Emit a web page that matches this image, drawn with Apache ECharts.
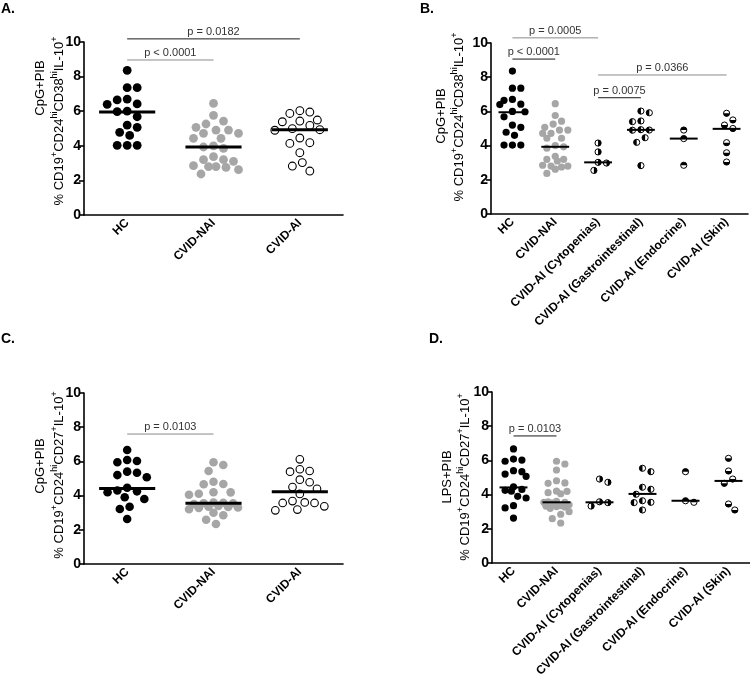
<!DOCTYPE html>
<html><head><meta charset="utf-8">
<script src="https://cdn.jsdelivr.net/npm/echarts@6/dist/echarts.min.js"></script>
<style>html,body{margin:0;padding:0;background:#fff}#c{width:750px;height:689px}</style>
</head><body><div id="c"></div>
<script>
const FONT = "'Liberation Sans', Arial, Helvetica, sans-serif";

// ---------- categories & ticks ----------
const catsShort = ['HC', 'CVID-NAI', 'CVID-AI'];
const catsLong = ['HC', 'CVID-NAI', 'CVID-AI (Cytopenias)', 'CVID-AI (Gastrointestinal)', 'CVID-AI (Endocrine)', 'CVID-AI (Skin)'];
const yTickValues = [0, 2, 4, 6, 8, 10];

// ---------- CpG+PIB, CD24hi CD38hi IL-10+ (panels A, B) ----------
const hcCD38 = [8.36, 7.36, 7.36, 6.7, 6.65, 6.42, 6.4, 6.0, 5.98, 5.68, 5.2, 5.07, 4.78, 4.6, 4.03, 4.03, 4.03];
const naiCD38 = [6.45, 5.76, 5.43, 5.26, 5.07, 4.91, 4.91, 4.72, 4.72, 4.43, 4.43, 4.0, 3.93, 3.85, 3.37, 3.2, 3.2, 3.1, 2.85, 2.8, 2.8, 2.75, 2.62, 2.37];
const aiCD38 = [6.03, 5.95, 5.87, 5.49, 5.43, 5.39, 5.18, 4.99, 4.93, 4.9, 4.45, 4.18, 4.14, 3.6, 3.03, 2.83, 2.54];
const cytoCD38 = [4.15, 3.63, 3.02, 2.98, 2.55];
const giCD38 = [6.02, 5.92, 5.44, 5.4, 4.93, 4.91, 4.9, 4.46, 4.19, 2.83];
const endoCD38 = [4.91, 4.41, 2.85];
const skinCD38 = [5.89, 5.5, 5.2, 5.0, 4.17, 3.58, 3.04];

// ---------- CD24hi CD27+ IL-10+ (panels C, D) ----------
const hcCD27 = [6.67, 6.08, 6.02, 5.95, 5.4, 5.34, 5.2, 5.07, 4.46, 4.3, 4.25, 4.2, 3.9, 3.8, 3.35, 3.22, 2.63];
const naiCD27 = [5.95, 5.79, 5.44, 4.81, 4.68, 4.66, 4.2, 4.19, 4.11, 4.05, 3.6, 3.58, 3.55, 3.55, 3.5, 3.4, 3.35, 3.33, 3.3, 3.28, 3.2, 3.0, 2.85, 2.59, 2.34];
const aiCD27 = [6.12, 5.54, 5.44, 5.4, 4.93, 4.78, 4.5, 4.4, 4.1, 3.68, 3.6, 3.57, 3.57, 3.37, 3.18, 3.14];
const cytoLPS = [4.91, 4.72, 3.58, 3.53, 3.33];
const giLPS = [5.54, 5.34, 4.43, 4.31, 4.02, 3.64, 3.55, 3.53, 3.1];
const endoLPS = [5.34, 3.64, 3.55];
const skinLPS = [6.12, 5.38, 4.91, 4.66, 3.45, 3.1];

// ---------- medians (horizontal bars) ----------
const medA = [5.95, 3.93, 4.93];
const medB = [5.95, 3.93, 3.02, 4.92, 4.41, 4.98];
const medC = [4.42, 3.55, 4.22];
const medD = [4.42, 3.55, 3.55, 4.04, 3.64, 4.8];

// ---------- significance brackets: [fromCategory, toCategory, height] ----------
const sigA = [[0, 2, 10.18], [0, 1, 8.96]];
const sigALabels = ['p = 0.0182', 'p < 0.0001'];
const sigB = [[0, 2, 10.3], [0, 1, 9.06], [2, 5, 8.13], [2, 3, 6.8]];
const sigBLabels = ['p = 0.0005', 'p < 0.0001', 'p = 0.0366', 'p = 0.0075'];
const sigC = [[0, 1, 7.6]];
const sigCLabels = ['p = 0.0103'];
const sigD = [[0, 1, 7.43]];
const sigDLabels = ['p = 0.0103'];

// ---------- layout / style ----------
const panels = [
  { grid: { left: 84, top: 42, width: 259, height: 173 }, cats: catsShort,
    groups: [hcCD38, naiCD38, aiCD38], kinds: ['black', 'gray', 'open'],
    med: medA, sig: sigA, sigLabels: sigALabels, sigColors: ['#1a1a1a', '#8a8a8a'], r: 4.4, medW: 3 },
  { grid: { left: 491, top: 43, width: 257, height: 171 }, cats: catsLong,
    groups: [hcCD38, naiCD38, cytoCD38, giCD38, endoCD38, skinCD38], kinds: ['black', 'gray', 'R', 'L', 'T', 'B'],
    med: medB, sig: sigB, sigLabels: sigBLabels, sigColors: ['#8a8a8a', '#1a1a1a', '#8a8a8a', '#1a1a1a'], r: 3.6, medW: 2 },
  { grid: { left: 84, top: 393, width: 259, height: 171 }, cats: catsShort,
    groups: [hcCD27, naiCD27, aiCD27], kinds: ['black', 'gray', 'open'],
    med: medC, sig: sigC, sigLabels: sigCLabels, sigColors: ['#8a8a8a'], r: 4.3, medW: 3 },
  { grid: { left: 492, top: 392, width: 258, height: 171 }, cats: catsLong,
    groups: [hcCD27, naiCD27, cytoLPS, giLPS, endoLPS, skinLPS], kinds: ['black', 'gray', 'R', 'L', 'T', 'B'],
    med: medD, sig: sigD, sigLabels: sigDLabels, sigColors: ['#1a1a1a'], r: 3.6, medW: 2 }
];

// beeswarm: horizontal pixel offsets derived from the values
function swarm(values, ppu, r, maxHalf) {
  const minD = 2 * r + 1.2;
  const step = minD / 4;
  const order = values.map((v, i) => i).sort((a, b) => values[b] - values[a] || a - b);
  const placed = [];
  const off = new Array(values.length).fill(0);
  for (const i of order) {
    const y = values[i] * ppu;
    let chosen = null, fallback = 0, fb = -1;
    let bal = 0;
    placed.forEach(p => { if (Math.abs(p.y - y) < 2 * minD) bal += Math.sign(p.x); });
    for (let k = 0; k * step <= maxHalf + 1e-6; k++) {
      const cands = k === 0 ? [0] : (bal > 0 ? [-k * step, k * step] : [k * step, -k * step]);
      for (const x of cands) {
        let md = Infinity;
        for (const p of placed) md = Math.min(md, Math.hypot(p.x - x, p.y - y));
        if (md >= minD) { chosen = x; break; }
        if (md > fb) { fb = md; fallback = x; }
      }
      if (chosen !== null) break;
    }
    off[i] = chosen !== null ? chosen : fallback;
    placed.push({ x: off[i], y });
  }
  return off;
}

function dotRender(kind, r) {
  const ang = { L: [Math.PI / 2, Math.PI * 1.5], R: [-Math.PI / 2, Math.PI / 2], T: [Math.PI, Math.PI * 2], B: [0, Math.PI] };
  return function (params, api) {
    const p = api.coord([api.value(0), api.value(1)]);
    const cx = p[0] + api.value(2), cy = p[1];
    if (kind === 'black') return { type: 'circle', shape: { cx, cy, r }, style: { fill: '#000' } };
    if (kind === 'gray') return { type: 'circle', shape: { cx, cy, r }, style: { fill: '#a6a6a6' } };
    if (kind === 'open') return { type: 'circle', shape: { cx, cy, r: r - 0.5 }, style: { fill: '#fff', stroke: '#000', lineWidth: 1.1 } };
    const a = ang[kind];
    return { type: 'group', children: [
      { type: 'circle', shape: { cx, cy, r: r - 0.5 }, style: { fill: '#fff', stroke: '#000', lineWidth: 1 } },
      { type: 'sector', shape: { cx, cy, r0: 0, r: r - 0.5, startAngle: a[0], endAngle: a[1], clockwise: true }, style: { fill: '#000' } }
    ] };
  };
}

function medianRender(lw) {
  return function (params, api) {
    const p = api.coord([api.value(0), api.value(1)]);
    const w = api.size([1, 0])[0] * 0.65;
    return { type: 'line', shape: { x1: p[0] - w / 2, y1: p[1], x2: p[0] + w / 2, y2: p[1] }, style: { stroke: '#000', lineWidth: lw } };
  };
}

function sigRender(labels, colors) {
  return function (params, api) {
    const a = api.coord([api.value(0), api.value(2)]);
    const b = api.coord([api.value(1), api.value(2)]);
    const i = params.dataIndex;
    return { type: 'group', children: [
      { type: 'line', shape: { x1: a[0], y1: a[1], x2: b[0], y2: b[1] }, style: { stroke: colors[i], lineWidth: 1 } },
      { type: 'text', x: (a[0] + b[0]) / 2, y: a[1] - 1.5,
        style: { text: labels[i], fill: '#333', fontSize: 11, fontFamily: FONT, align: 'center', verticalAlign: 'bottom' } }
    ] };
  };
}

const grids = [], xAxes = [], yAxes = [], series = [];
panels.forEach((pn, gi) => {
  grids.push(pn.grid);
  xAxes.push({
    gridIndex: gi, type: 'category', data: pn.cats, boundaryGap: true,
    axisLine: { lineStyle: { color: '#000', width: 1.6 } },
    axisTick: { alignWithLabel: true, length: 5, lineStyle: { color: '#000', width: 1.6 } },
    axisLabel: { rotate: 45, interval: 0, margin: 6, color: '#000', fontWeight: 'bold', fontSize: 12, fontFamily: FONT },
    splitLine: { show: false }
  });
  yAxes.push({
    gridIndex: gi, type: 'value', min: 0, max: 10, interval: 2,
    axisLine: { show: true, lineStyle: { color: '#000', width: 1.6 } },
    axisTick: { show: true, length: 5, lineStyle: { color: '#000', width: 1.6 } },
    axisLabel: { color: '#000', fontWeight: 'bold', fontSize: 14, fontFamily: FONT, margin: 3,
      formatter: v => (yTickValues.indexOf(v) >= 0 ? String(v) : '') },
    splitLine: { show: false }
  });
  const ppu = pn.grid.height / 10;
  const band = pn.grid.width / pn.cats.length;
  pn.groups.forEach((vals, ci) => {
    const offs = swarm(vals, ppu, pn.r, band * 0.3);
    series.push({
      type: 'custom', xAxisIndex: gi, yAxisIndex: gi, clip: false, silent: true, z: 2,
      encode: { x: 0, y: 1 },
      data: vals.map((v, k) => [ci, v, offs[k]]),
      renderItem: dotRender(pn.kinds[ci], pn.r)
    });
  });
  series.push({
    type: 'custom', xAxisIndex: gi, yAxisIndex: gi, clip: false, silent: true, z: 3,
    encode: { x: 0, y: 1 },
    data: pn.med.map((m, ci) => [ci, m]),
    renderItem: medianRender(pn.medW)
  });
  series.push({
    type: 'custom', xAxisIndex: gi, yAxisIndex: gi, clip: false, silent: true, z: 3,
    encode: { x: 0, y: 2 },
    data: pn.sig.map(s => s.slice()),
    renderItem: sigRender(pn.sigLabels, pn.sigColors)
  });
});

const rich = {
  n: { fontSize: 13, fontFamily: FONT, fill: '#000', lineHeight: 18 },
  s: { fontSize: 9, fontFamily: FONT, fill: '#000', verticalAlign: 'top' }
};
const titleCD38 = '{n|% CD19}{s|+}{n|CD24}{s|hi}{n|CD38}{s|hi}{n|IL-10}{s|+}';
const titleCD27 = '{n|% CD19}{s|+}{n|CD24}{s|hi}{n|CD27}{s|+}{n|IL-10}{s|+}';

function vText(x, y, text, withRich) {
  return { type: 'text', x, y, rotation: Math.PI / 2, silent: true,
    style: withRich
      ? { text, rich, align: 'center', verticalAlign: 'middle' }
      : { text, fontSize: 13, fontFamily: FONT, fill: '#000', align: 'center', verticalAlign: 'middle' } };
}
function letter(x, y, t) {
  return { type: 'text', x, y, silent: true,
    style: { text: t, fontSize: 14, fontWeight: 'bold', fontFamily: FONT, fill: '#000', align: 'left', verticalAlign: 'top' } };
}

const graphic = [
  letter(1, 2, 'A.'), letter(420, 2, 'B.'), letter(1, 332, 'C.'), letter(429, 332, 'D.'),
  vText(40, 88, 'CpG+PIB', false), vText(59, 121, titleCD38, true),
  vText(441, 116, 'CpG+PIB', false), vText(459, 117, titleCD38, true),
  vText(40, 466, 'CpG+PIB', false), vText(59, 475, titleCD27, true),
  vText(447, 477, 'LPS+PIB', false), vText(465, 477, titleCD27, true)
];

const chart = echarts.init(document.getElementById('c'), null, { renderer: 'canvas' });
chart.setOption({
  animation: false,
  backgroundColor: '#fff',
  grid: grids, xAxis: xAxes, yAxis: yAxes, series, graphic
});
</script></body></html>
